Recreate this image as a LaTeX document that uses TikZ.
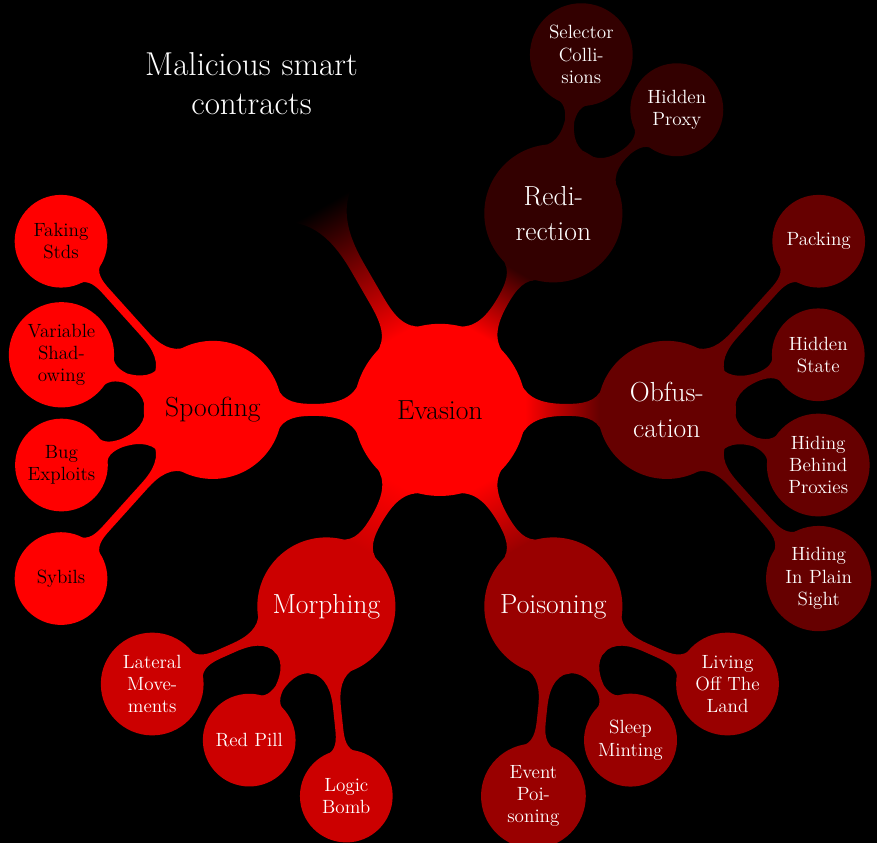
\documentclass[tikz,border=0pt]{standalone}
\usetikzlibrary{mindmap}
\begin{document}
\begin{tikzpicture}[mindmap,
  level 2 concept/.append style={minimum size=2cm,text width=1.7cm,font=\large},
  rootnode/.style={minimum size=3.75cm,text width=3.3cm,font=\LARGE},
  branch/.style={minimum size=3cm,text width=2.5cm,font=\LARGE},
  titlenode/.style={text width=6cm,font=\huge}]
\path[use as bounding box,fill=black] (-9.69,-9.54) rectangle (9.63,9.03);
\path[concept color=red,text=black]
  node[concept,rootnode] (evasion) {Evasion}
  child[grow=180] {node[concept,branch] (spoofing) {Spoofing}
    child[grow=132,level distance=5cm] {node[concept] (faking) {Faking Stds}}
    child[grow=160,level distance=3.55cm] {node[concept] (shadowing) {Variable Shadowing}}
    child[grow=200,level distance=3.55cm] {node[concept] (bugs) {Bug Exploits}}
    child[grow=228,level distance=5cm] {node[concept] (sybils) {Sybils}}}
  child[grow=240,concept color=red!80!black,text=white] {node[concept,branch] (morphing) {Morphing}
    child[grow=204,level distance=4.2cm] {node[concept] (lateral) {Lateral Movements}}
    child[grow=240,level distance=3.4cm] {node[concept] (redpill) {Red Pill}}
    child[grow=276,level distance=4.2cm] {node[concept] (logicbomb) {Logic Bomb}}}
  child[grow=300,concept color=red!60!black,text=white] {node[concept,branch] (poisoning) {Poisoning}
    child[grow=264,level distance=4.2cm] {node[concept] (eventpois) {Event Poisoning}}
    child[grow=300,level distance=3.4cm] {node[concept] (sleepmint) {Sleep Minting}}
    child[grow=336,level distance=4.2cm] {node[concept] (offland) {Living Off The Land}}}
  child[grow=0,concept color=red!40!black,text=white] {node[concept,branch] (obfuscation) {Obfus\-cation}
    child[grow=48,level distance=5cm] {node[concept] (packing) {Packing}}
    child[grow=20,level distance=3.55cm] {node[concept] (hidstate) {Hidden State}}
    child[grow=340,level distance=3.55cm] {node[concept] (behindprox) {Hiding Behind Proxies}}
    child[grow=312,level distance=5cm] {node[concept] (plainsight) {Hiding In Plain Sight}}}
  child[grow=60,concept color=red!20!black,text=white] {node[concept,branch] (redirection) {Redi\-rection}
    child[grow=80,level distance=3.55cm] {node[concept] (selector) {Selector Collisions}}
    child[grow=40,level distance=3.55cm] {node[concept] (hidproxy) {Hidden Proxy}}}
  child[grow=120,level distance=8.3cm,concept color=black,text=white] {node[concept,titlenode] (title) {Malicious smart\\contracts}};
\end{tikzpicture}
\end{document}
